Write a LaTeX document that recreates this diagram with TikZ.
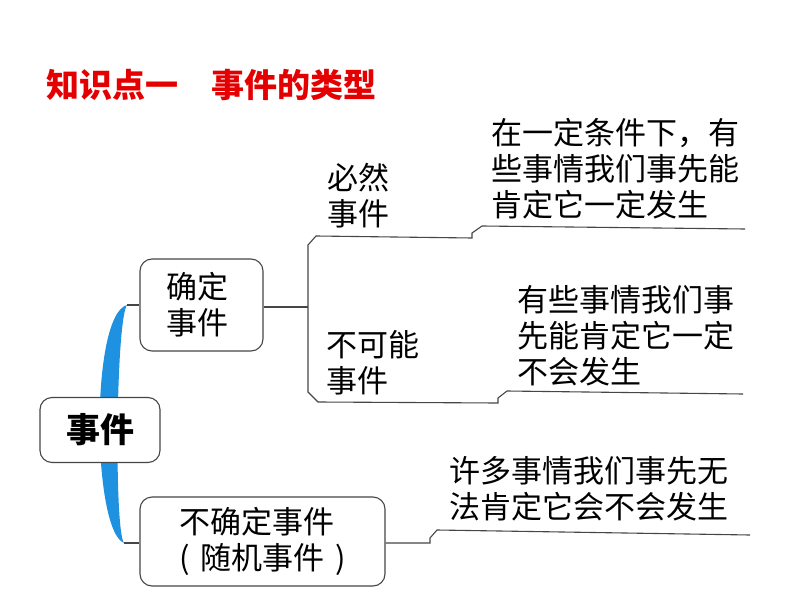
\documentclass[tikz,border=0pt]{standalone}
\usepackage{fontspec}
\setmainfont{Noto Sans CJK SC}
\begin{document}
\begin{tikzpicture}[x=1pt,y=-1pt,
  ln/.style={draw=gray!55!black,line width=1.1pt},
  rbox/.style={ln,fill=white,rounded corners=12pt,inner sep=0pt},
  txt/.style={anchor=north west,inner sep=0pt,align=left,font=\fontsize{31}{36}\selectfont}]
\useasboundingbox (0,0) rectangle (794,596);
\fill[white] (0,0) rectangle (794,596);
% title
\node[anchor=north west,inner sep=0pt,text={rgb,255:red,228;green,0;blue,0},font=\fontsize{33}{36}\selectfont\bfseries] (title) at (46,69) {知识点一　事件的类型};
% blue band
\coordinate (bt) at (127,305);
\coordinate (bb) at (124,543);
\fill[fill={rgb,255:red,30;green,145;blue,225}] (bt) .. controls (90,315) and (92,530) .. (bb) .. controls (114,530) and (116,320) .. (bt);
% boxes
\node[rbox,minimum width=120pt,minimum height=65pt,font=\fontsize{34}{36}\selectfont\bfseries] (ev) at (100,430) {事件};
\node[rbox,minimum width=123pt,minimum height=92pt,align=center,font=\fontsize{31}{36}\selectfont] (qd) at (201.5,305) {\hspace*{-8pt}确定\\\hspace*{-8pt}事件};
\node[rbox,minimum width=245pt,minimum height=89pt,align=left,font=\fontsize{31}{36}\selectfont] (bq) at (262.5,541.5) {不确定事件\\(\hspace{0.35em}随机事件\hspace{0.35em})};
\draw[ln] (bt) -- (qd.west |- bt);
\draw[ln] (bb) -- (bq.west |- bb);
% upper bracket
\coordinate (jt) at (308,307);
\coordinate (e1) at (745,229);
\coordinate (e2) at (743,394);
\draw[ln] (qd.east |- jt) -- (jt);
\draw[ln] (e1) -- (482,226) -- (472,233) -- (472,238) -- (316,236) -- (308,245) -- (308,392) -- (318,402) -- (498,403) -- (498,398) -- (507,391) -- (e2);
% lower connector
\coordinate (e3) at (750,535);
\draw[ln] (bq.east |- bb) -- (430,543) -- (430,538) -- (437,530) -- (e3);
% labels
\node[txt] (bi) at (327,163) {必然\\事件};
\node[txt] (bk) at (326,330) {不可能\\事件};
\node[txt] (t1) at (491,118) {在一定条件下，有\\些事情我们事先能\\肯定它一定发生};
\node[txt] (t2) at (517,285) {有些事情我们事\\先能肯定它一定\\不会发生};
\node[txt] (t3) at (449,456) {许多事情我们事先无\\法肯定它会不会发生};
\end{tikzpicture}
\end{document}
